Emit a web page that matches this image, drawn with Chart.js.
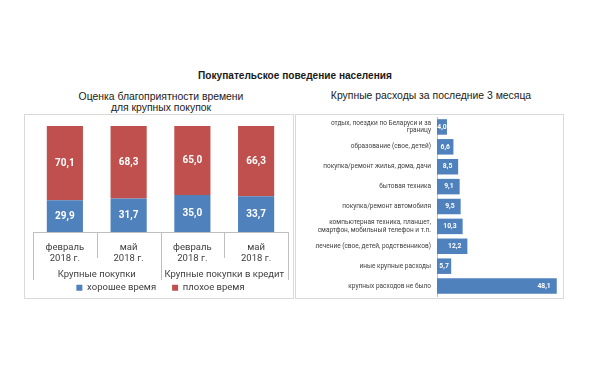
<!DOCTYPE html>
<html><head><meta charset="utf-8">
<script src="https://cdn.jsdelivr.net/npm/chart.js@4.4.1/dist/chart.umd.min.js"></script>
<style>
html,body{margin:0;padding:0;background:#fff;}
body{width:589px;height:380px;position:relative;overflow:hidden;font-family:"Liberation Sans",Arial,sans-serif;}
.t{position:absolute;white-space:nowrap;transform:translate(-50%,-50%);color:#1a1a1a;line-height:1;}
#mainTitle{left:295px;top:76px;font-weight:bold;font-size:10.1px;}
#leftTitle1{left:161px;top:97px;font-size:10.4px;}
#leftTitle2{left:161px;top:108px;font-size:10.4px;}
#rightTitle{left:431px;top:96px;font-size:10.4px;}
.box{position:absolute;border:1px solid #d9d9d9;}
#leftBox{left:24px;top:114px;width:268px;height:183px;}
#rightBox{left:295px;top:114px;width:267px;height:183px;}
canvas{display:block;}
</style>
</head><body>
<div class="t" id="mainTitle">Покупательское поведение населения</div>
<div class="t" id="leftTitle1">Оценка благоприятности времени</div>
<div class="t" id="leftTitle2">для крупных покупок</div>
<div class="t" id="rightTitle">Крупные расходы за последние 3 месяца</div>
<div class="box" id="leftBox"><canvas id="c1" width="268" height="183"></canvas></div>
<div class="box" id="rightBox"><canvas id="c2" width="267" height="183"></canvas></div>
<script>
// ---- data ----
const periods = [["февраль","2018 г."],["май","2018 г."],["февраль","2018 г."],["май","2018 г."]];
const periodGroup = [0,0,1,1];
const groups = ["Крупные покупки","Крупные покупки в кредит"];
const seriesNames = ["хорошее время","плохое время"];
const goodTime = [29.9,31.7,35.0,33.7];
const badTime = [70.1,68.3,65.0,66.3];

const expenseCategories = [
  ["отдых, поездки по Беларуси и за","границу"],
  "образование (свое, детей)",
  "покупка/ремонт жилья, дома, дачи",
  "бытовая техника",
  "покупка/ремонт автомобиля",
  ["компьютерная техника, планшет,","смартфон, мобильный телефон и т.п."],
  "лечение (свое, детей, родственников)",
  "иные крупные расходы",
  "крупных расходов не было"
];
const expenseValues = [4.0,6.6,8.5,9.1,9.5,10.3,12.2,5.7,48.1];

const BLUE = '#4f81bd', RED = '#c0504d', AXIS = '#bfbfbf', TXT = '#404040';
const fmt = v => v.toFixed(1).replace('.', ',');

Chart.defaults.font.family = 'Roboto, "Open Sans", sans-serif';
Chart.defaults.color = TXT;

// ---- left chart ----
const leftDeco = {
  id: 'leftDeco',
  afterDatasetsDraw(chart) {
    const ctx = chart.ctx, x = chart.scales.x, area = chart.chartArea;
    const half = (x.getPixelForValue(1) - x.getPixelForValue(0)) / 2;
    const edgeAt = i => i < periods.length ? x.getPixelForValue(i) - half : x.getPixelForValue(i - 1) + half;
    ctx.save();
    ctx.strokeStyle = AXIS; ctx.lineWidth = 1;
    for (let i = 0; i <= periods.length; i++) {
      const px = Math.round(edgeAt(i)) + 0.5;
      const edge = i === 0 || i === periods.length || periodGroup[i] !== periodGroup[i - 1];
      ctx.beginPath();
      ctx.moveTo(px, area.bottom);
      ctx.lineTo(px, area.bottom + (edge ? 48 : 26));
      ctx.stroke();
    }
    // group labels
    ctx.fillStyle = TXT;
    ctx.font = '9.5px Roboto, sans-serif';
    ctx.textAlign = 'center'; ctx.textBaseline = 'middle';
    groups.forEach((g, gi) => {
      const idx = periodGroup.map((p, i) => p === gi ? i : -1).filter(i => i >= 0);
      const l = edgeAt(idx[0]), r = edgeAt(idx[idx.length - 1] + 1);
      ctx.fillText(g, (l + r) / 2, area.bottom + 43);
    });
    // value labels
    ctx.fillStyle = '#fff';
    ctx.font = 'bold 10px Roboto, sans-serif';
    chart.data.datasets.forEach((ds, di) => {
      chart.getDatasetMeta(di).data.forEach((el, i) => {
        ctx.fillText(fmt(ds.data[i]), el.x, (el.y + el.base) / 2);
      });
    });
    ctx.restore();
  }
};

new Chart(document.getElementById('c1'), {
  type: 'bar',
  data: {
    labels: periods,
    datasets: [
      {label: seriesNames[0], data: goodTime, backgroundColor: BLUE, barPercentage: 0.567, categoryPercentage: 1},
      {label: seriesNames[1], data: badTime, backgroundColor: RED, barPercentage: 0.567, categoryPercentage: 1}
    ]
  },
  options: {
    responsive: false, animation: false,
    layout: {padding: {left: 8, right: 5, top: 11, bottom: 0}},
    plugins: {
      tooltip: {enabled: false},
      legend: {
        position: 'bottom', maxHeight: 31,
        labels: {boxWidth: 6, boxHeight: 6, padding: 16, font: {size: 9.5}, color: TXT}
      }
    },
    scales: {
      x: {
        stacked: true,
        grid: {display: false, drawTicks: false},
        border: {display: true, color: AXIS},
        ticks: {padding: 10, font: {size: 9.5, lineHeight: 1.15}, color: TXT, maxRotation: 0, autoSkip: false},
        afterFit: s => { s.height = 35; s.paddingLeft = 0; s.paddingRight = 0; }
      },
      y: {stacked: true, display: false, min: 0, max: 100}
    }
  },
  plugins: [leftDeco]
});

// ---- right chart ----
const rightDeco = {
  id: 'rightDeco',
  afterDatasetsDraw(chart) {
    const ctx = chart.ctx;
    ctx.save();
    ctx.fillStyle = '#fff';
    ctx.font = 'bold 6.8px Roboto, sans-serif';
    ctx.textAlign = 'center'; ctx.textBaseline = 'middle';
    const ds = chart.data.datasets[0];
    chart.getDatasetMeta(0).data.forEach((el, i) => {
      const t = fmt(ds.data[i]);
      const w = ctx.measureText(t).width;
      const cx = Math.max((el.x + el.base) / 2, el.x - 6 - w / 2);
      ctx.fillText(t, cx, el.y);
    });
    ctx.restore();
  }
};

new Chart(document.getElementById('c2'), {
  type: 'bar',
  data: {
    labels: expenseCategories,
    datasets: [{data: expenseValues, backgroundColor: BLUE, barPercentage: 0.78, categoryPercentage: 1}]
  },
  options: {
    indexAxis: 'y',
    responsive: false, animation: false,
    layout: {padding: {left: 0, right: 2, top: 2, bottom: 2}},
    plugins: {legend: {display: false}, tooltip: {enabled: false}},
    scales: {
      x: {display: false, min: 0, max: 49.8},
      y: {
        grid: {display: false, drawTicks: false},
        border: {display: true, color: AXIS},
        ticks: {padding: 6, font: {size: 6.5, lineHeight: 1.2}, color: TXT, autoSkip: false},
        afterFit: s => { s.width = 141; s.paddingTop = 0; s.paddingBottom = 0; }
      }
    }
  },
  plugins: [rightDeco]
});
</script>
</body></html>
